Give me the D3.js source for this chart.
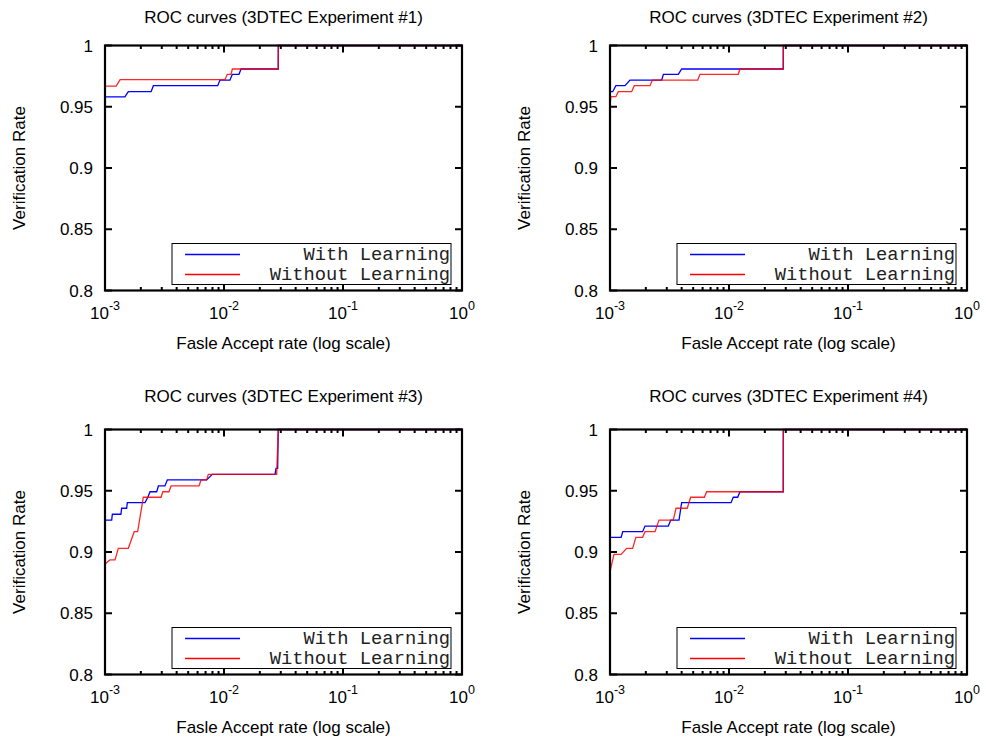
<!DOCTYPE html>
<html>
<head>
<meta charset="utf-8">
<script src="https://cdn.jsdelivr.net/npm/d3@7"></script>
<style>
  html, body { margin: 0; padding: 0; background: #fff; }
  svg { display: block; }
  text { font-family: "Liberation Sans", Arial, sans-serif; fill: #000; }
  .legend text { font-family: "Liberation Mono", "Courier New", monospace; fill: #222; }
</style>
</head>
<body>
<svg id="chart" width="986" height="742"></svg>
<script>
// ---------- data ----------
const titles = [
  "ROC curves (3DTEC Experiment #1)",
  "ROC curves (3DTEC Experiment #2)",
  "ROC curves (3DTEC Experiment #3)",
  "ROC curves (3DTEC Experiment #4)"
];
const seriesNames = ["With Learning", "Without Learning"];
const seriesColors = ["#0000ff", "#ff0000"];
const xLabel = "Fasle Accept rate (log scale)";
const yLabel = "Verification Rate";
const yTicks = [0.8, 0.85, 0.9, 0.95, 1];
const yTickLabels = ["0.8", "0.85", "0.9", "0.95", "1"];
const xMajorTicks = [0.001, 0.01, 0.1, 1];
const xTickExponents = ["-3", "-2", "-1", "0"];

// [false accept rate, verification rate]
const exp1With = [[0.001,0.958],[0.00147,0.958],[0.00157,0.9623],[0.00244,0.9623],[0.00255,0.9672],[0.00885,0.9672],[0.00925,0.9718],[0.01122,0.9718],[0.01175,0.9765],[0.01337,0.9765],[0.0139,0.9808],[0.02857,0.9808],[0.0286,1],[1,1]];
const exp1Without = [[0.001,0.9669],[0.00124,0.9669],[0.00134,0.9721],[0.01019,0.9721],[0.01066,0.9765],[0.01146,0.9765],[0.01175,0.9808],[0.02857,0.9808],[0.0286,1],[1,1]];

const exp2With = [[0.001,0.9623],[0.001054,0.9623],[0.00112,0.9672],[0.001337,0.9672],[0.001473,0.9718],[0.00272,0.9718],[0.00281,0.9765],[0.00375,0.9765],[0.0040,0.9808],[0.02857,0.9808],[0.0286,1],[1,1]];
const exp2Without = [[0.001,0.9528],[0.00102,0.9582],[0.00112,0.9582],[0.001174,0.9623],[0.00152,0.9623],[0.0016,0.9672],[0.00217,0.9672],[0.00227,0.9718],[0.00546,0.9718],[0.0057,0.9765],[0.01197,0.9765],[0.01236,0.9808],[0.02857,0.9808],[0.0286,1],[1,1]];

const exp3With = [[0.001,0.9221],[0.00101,0.9261],[0.001138,0.9261],[0.001153,0.9308],[0.00136,0.9308],[0.00138,0.9357],[0.00152,0.9357],[0.00154,0.9403],[0.00217,0.9403],[0.00229,0.9447],[0.00239,0.9492],[0.00272,0.9492],[0.00281,0.9539],[0.00319,0.9539],[0.00334,0.9588],[0.00715,0.9588],[0.00798,0.9634],[0.02686,0.9634],[0.02736,0.9683],[0.02824,0.9683],[0.02858,1],[1,1]];
const exp3Without = [[0.001,0.8902],[0.0011,0.8935],[0.001214,0.8935],[0.001294,0.9030],[0.00157,0.9030],[0.00176,0.9166],[0.00188,0.9166],[0.0021,0.9447],[0.00296,0.9447],[0.00306,0.9492],[0.00345,0.9492],[0.00359,0.9539],[0.00617,0.9539],[0.00641,0.9588],[0.00715,0.9588],[0.00738,0.9634],[0.0277,0.9634],[0.02858,1],[1,1]];

const exp4With = [[0.001,0.912],[0.00124,0.912],[0.00128,0.9166],[0.00188,0.9166],[0.00197,0.9212],[0.00309,0.9212],[0.00324,0.9261],[0.0038,0.9261],[0.0040,0.9403],[0.0104,0.9403],[0.01087,0.9447],[0.01183,0.9447],[0.01236,0.9492],[0.02857,0.9492],[0.0286,1],[1,1]];
const exp4Without = [[0.001,0.884],[0.00108,0.8981],[0.00124,0.8981],[0.00138,0.9030],[0.00155,0.9030],[0.00165,0.9120],[0.00188,0.9120],[0.00197,0.9166],[0.00239,0.9166],[0.00258,0.9261],[0.0034,0.9261],[0.00359,0.9357],[0.00446,0.9357],[0.00476,0.9447],[0.00621,0.9447],[0.00649,0.9492],[0.02857,0.9492],[0.0286,1],[1,1]];

const panelSeries = [
  [exp1With, exp1Without],
  [exp2With, exp2Without],
  [exp3With, exp3Without],
  [exp4With, exp4Without]
];

// ---------- layout ----------
const panelLefts = [105, 610];
const panelTops = [45.5, 429.5];
const titleOffsets = [-22.5, -27.5];
const W = 357, H = 245;

const svg = d3.select("#chart");

panelSeries.forEach((series, i) => {
  const row = Math.floor(i / 2);
  const left = panelLefts[i % 2];
  const top = panelTops[row];
  const g = svg.append("g").attr("transform", `translate(${left},${top})`);

  const x = d3.scaleLog().domain([0.001, 1]).range([0, W]);
  const y = d3.scaleLinear().domain([0.8, 1]).range([H, 0]);

  // title
  g.append("text").attr("x", W / 2).attr("y", titleOffsets[row])
    .attr("text-anchor", "middle").attr("font-size", 17).text(titles[i]);

  // curves
  const line = d3.line().x(d => x(d[0])).y(d => y(d[1]));
  series.forEach((s, k) => {
    g.append("path").datum(s).attr("d", line)
      .attr("fill", "none").attr("stroke", seriesColors[k])
      .attr("stroke-width", 1.3).attr("stroke-opacity", k === 1 ? 0.85 : 1);
  });

  // minor/major x ticks (inward, bottom and top)
  const allX = x.ticks();
  allX.forEach(t => {
    const major = xMajorTicks.some(m => Math.abs(m - t) / m < 1e-9);
    const len = major ? 7 : 3.5;
    g.append("line").attr("x1", x(t)).attr("x2", x(t)).attr("y1", H).attr("y2", H - len)
      .attr("stroke", "#000").attr("stroke-width", 2);
    g.append("line").attr("x1", x(t)).attr("x2", x(t)).attr("y1", 0).attr("y2", len)
      .attr("stroke", "#000").attr("stroke-width", 2);
  });
  // y ticks left and right
  yTicks.forEach(t => {
    g.append("line").attr("x1", 0).attr("x2", 7).attr("y1", y(t)).attr("y2", y(t))
      .attr("stroke", "#000").attr("stroke-width", 2);
    g.append("line").attr("x1", W).attr("x2", W - 7).attr("y1", y(t)).attr("y2", y(t))
      .attr("stroke", "#000").attr("stroke-width", 2);
  });

  // frame
  g.append("rect").attr("x", 0).attr("y", 0).attr("width", W).attr("height", H)
    .attr("fill", "none").attr("stroke", "#000").attr("stroke-width", 2.2);

  // y tick labels
  yTicks.forEach((t, j) => {
    g.append("text").attr("x", -12).attr("y", y(t) + 6)
      .attr("text-anchor", "end").attr("font-size", 17).text(yTickLabels[j]);
  });
  // x tick labels 10^n
  xMajorTicks.forEach((t, j) => {
    const tx = g.append("text").attr("x", x(t)).attr("y", H + 28)
      .attr("text-anchor", "middle").attr("font-size", 17);
    tx.append("tspan").text("10");
    tx.append("tspan").attr("dy", -9).attr("font-size", 12.5).text(xTickExponents[j]);
  });

  // axis labels
  g.append("text").attr("x", W / 2).attr("y", H + 58)
    .attr("text-anchor", "middle").attr("font-size", 17).text(xLabel);
  g.append("text").attr("transform", `translate(-80,${H / 2}) rotate(-90)`)
    .attr("text-anchor", "middle").attr("font-size", 17).text(yLabel);

  // legend
  const lg = g.append("g").attr("class", "legend");
  lg.append("rect").attr("x", 67).attr("y", 198).attr("width", 279).attr("height", 41)
    .attr("fill", "#fff").attr("stroke", "#000").attr("stroke-width", 1);
  seriesNames.forEach((name, k) => {
    const ry = 209 + k * 20;
    lg.append("line").attr("x1", 80).attr("x2", 135).attr("y1", ry).attr("y2", ry)
      .attr("stroke", seriesColors[k]).attr("stroke-width", 1.3);
    lg.append("text").attr("x", 345).attr("y", ry + 5.5).attr("text-anchor", "end")
      .attr("font-size", 18.8).text(name);
  });
});
</script>
</body>
</html>
